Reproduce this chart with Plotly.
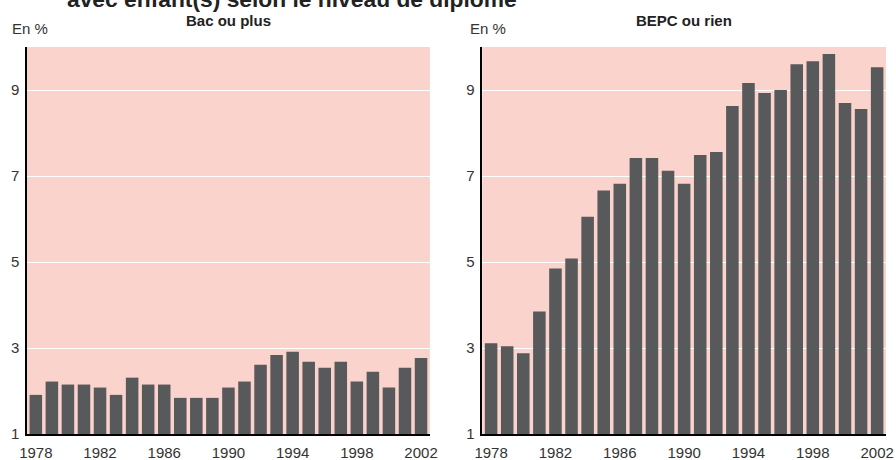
import plotly.graph_objects as go

years = list(range(1978, 2003))
bac_ou_plus = [1.91, 2.22, 2.15, 2.15, 2.08, 1.91, 2.31, 2.15, 2.15, 1.84, 1.84, 1.84,
               2.08, 2.22, 2.61, 2.84, 2.91, 2.68, 2.54, 2.68, 2.22, 2.45, 2.08, 2.54, 2.77]
bepc_ou_rien = [3.11, 3.04, 2.88, 3.85, 4.85, 5.08, 6.05, 6.66, 6.82, 7.42, 7.42, 7.12,
                6.82, 7.49, 7.56, 8.63, 9.16, 8.93, 9.00, 9.60, 9.67, 9.84, 8.70, 8.56, 9.53]
x_ticks = [1978, 1982, 1986, 1990, 1994, 1998, 2002]
y_ticks = [1, 3, 5, 7, 9]
panel_titles = ["Bac ou plus", "BEPC ou rien"]
title_text = "avec enfant(s) selon le niveau de diplôme"
unit_label = "En %"

bar_color = "#58595B"
bg_color = "#FAD3CC"
font_family = "Liberation Sans, Arial, sans-serif"
base_value = 1

fig = go.Figure()
fig.add_trace(go.Bar(x=years, y=[v - base_value for v in bac_ou_plus], base=base_value,
                     marker_color=bar_color, marker_line_width=0,
                     xaxis="x", yaxis="y", showlegend=False))
fig.add_trace(go.Bar(x=years, y=[v - base_value for v in bepc_ou_rien], base=base_value,
                     marker_color=bar_color, marker_line_width=0,
                     xaxis="x2", yaxis="y2", showlegend=False))

tick_font = dict(size=15, color="#333333", family=font_family)
xcommon = dict(range=[1977.45, 2002.55], tickvals=x_ticks, ticks="", showgrid=False,
               showline=True, linecolor="black", linewidth=1.5, zeroline=False,
               tickfont=tick_font, ticklabelstandoff=4, automargin=False)
ycommon = dict(range=[1, 10], tickvals=y_ticks, ticks="", showgrid=True, gridcolor="white",
               gridwidth=1.2, showline=True, linecolor="black", linewidth=1.5, zeroline=False,
               tickfont=tick_font, ticklabelstandoff=3, automargin=False)

fig.update_layout(
    width=896, height=460,
    margin=dict(l=27, r=10, t=47, b=26, autoexpand=False),
    paper_bgcolor="white", plot_bgcolor=bg_color,
    bargap=0.22,
    font=dict(family=font_family),
    xaxis=dict(domain=[0, 0.469], anchor="y", **xcommon),
    yaxis=dict(domain=[0, 1], anchor="x", **ycommon),
    xaxis2=dict(domain=[0.530, 1], anchor="y2", **xcommon),
    yaxis2=dict(domain=[0, 1], anchor="x2", **ycommon),
)

annotations = [
    dict(text="<b>" + title_text + "</b>", xref="paper", yref="paper", x=0.0442, y=1.084,
         xanchor="left", yanchor="bottom", showarrow=False,
         font=dict(size=22.8, color="#222222", family=font_family)),
    dict(text="<b>" + panel_titles[0] + "</b>", xref="x domain", yref="paper", x=0.5, y=1.068,
         xanchor="center", yanchor="middle", showarrow=False,
         font=dict(size=15, color="#222222", family=font_family)),
    dict(text="<b>" + panel_titles[1] + "</b>", xref="x2 domain", yref="paper", x=0.5, y=1.068,
         xanchor="center", yanchor="middle", showarrow=False,
         font=dict(size=15, color="#222222", family=font_family)),
    dict(text=unit_label, xref="paper", yref="paper", x=-0.0198, y=1.049,
         xanchor="left", yanchor="middle", showarrow=False,
         font=dict(size=15, color="#333333", family=font_family)),
    dict(text=unit_label, xref="paper", yref="paper", x=0.5134, y=1.049,
         xanchor="left", yanchor="middle", showarrow=False,
         font=dict(size=15, color="#333333", family=font_family)),
]
fig.update_layout(annotations=annotations)

fig.write_html("out.html", config={"displayModeBar": False},
               post_script="document.body.style.margin='0';")
